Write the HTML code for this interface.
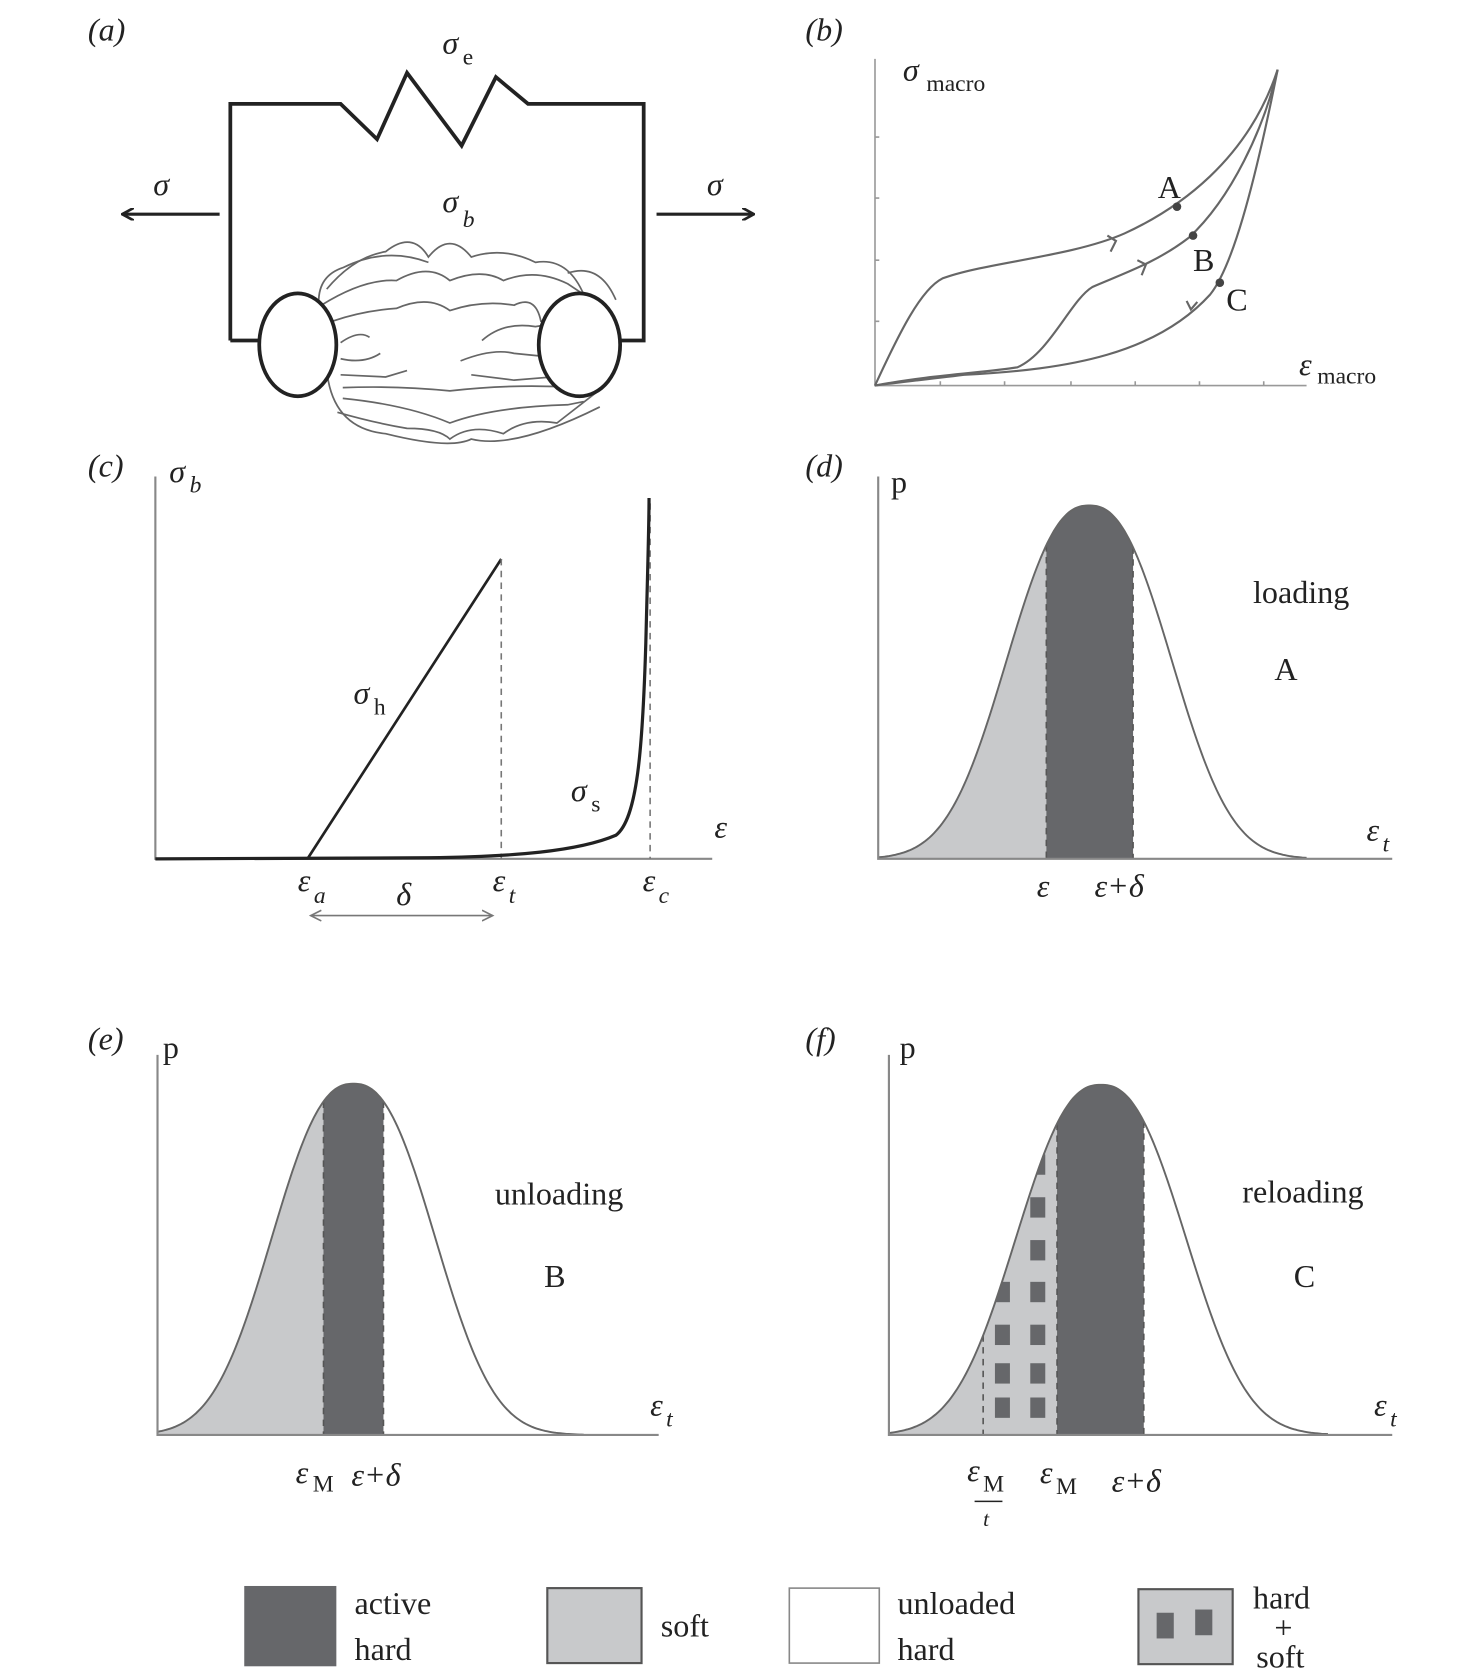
<!DOCTYPE html>
<html><head><meta charset="utf-8"><style>
html,body{margin:0;padding:0;background:#fff}
svg{display:block}
text{font-family:"Liberation Serif",serif;fill:#222}
.it{font-style:italic}
</style></head><body>
<svg id="s" width="1463" height="1677" viewBox="0 0 1366 1566" xmlns="http://www.w3.org/2000/svg">
<defs>
<marker id="ah" markerWidth="12" markerHeight="12" refX="10" refY="6" orient="auto" markerUnits="userSpaceOnUse"><path d="M0,0 L11,6 L0,12" fill="none" stroke="#222" stroke-width="2.5"/></marker>
<marker id="ag" markerWidth="12" markerHeight="12" refX="10" refY="6" orient="auto-start-reverse" markerUnits="userSpaceOnUse"><path d="M0,1 L10,6 L0,11" fill="none" stroke="#777" stroke-width="1.5"/></marker>
</defs>
<g font-size="30">
<text x="82" y="38" class="it">(a)</text>
<path d="M215,318 L215,97 L318,97 L352,130 L380,68 L431,136 L463,72 L493,97 L601,97 L601,318 L578,318" fill="none" stroke="#222" stroke-width="3.5"/>
<path d="M215,318 L242,318" stroke="#222" stroke-width="3.5"/>
<line x1="205" y1="200" x2="115" y2="200" stroke="#222" stroke-width="3" marker-end="url(#ah)"/>
<line x1="613" y1="200" x2="703" y2="200" stroke="#222" stroke-width="3" marker-end="url(#ah)"/>
<text x="143" y="182" class="it">σ</text><text x="660" y="182" class="it">σ</text>
<text x="413" y="198" class="it">σ</text><text x="432" y="212" font-size="22" class="it">b</text>
<text x="413" y="50" class="it">σ</text><text x="432" y="60" font-size="22">e</text>
<g fill="none" stroke="#666" stroke-width="1.6">
<path d="M305,270 Q330,240 360,235 Q385,215 400,240 Q420,215 440,240 Q470,230 500,245 Q530,240 545,275"/>
<path d="M300,285 Q340,260 370,262 Q400,245 420,262 Q450,250 470,262 Q500,250 530,265 L560,285"/>
<path d="M310,300 Q340,290 370,288 Q400,275 420,290 Q450,280 480,285 Q500,275 505,300 L545,305"/>
<path d="M318,320 Q335,308 345,315 M450,318 Q470,300 500,305 L530,300"/>
<path d="M318,335 Q340,340 355,330 M430,337 Q460,325 480,330 L530,335"/>
<path d="M318,350 L360,352 L380,346 M440,350 L480,355 L540,350"/>
<path d="M320,362 Q370,360 420,365 Q480,358 540,362"/>
<path d="M320,372 Q380,378 420,395 Q460,380 530,378 L545,375"/>
<path d="M315,385 Q350,395 380,400 Q410,400 420,410 Q440,395 470,405 Q490,390 520,395 L565,360"/>
<path d="M305,345 Q310,400 360,405 Q420,420 440,410 Q480,420 560,380"/>
<path d="M300,300 Q290,260 320,250 Q360,230 400,245"/>
<path d="M530,255 Q560,245 575,280"/>
</g>
<ellipse cx="278" cy="322" rx="36" ry="48" fill="#fff" stroke="#222" stroke-width="3.5"/>
<ellipse cx="541" cy="322" rx="38" ry="48" fill="#fff" stroke="#222" stroke-width="3.5"/>
<text x="752" y="38" class="it">(b)</text>
<g stroke="#999" stroke-width="1.5" fill="none">
<path d="M817,55 L817,360 L1220,360"/>
<path d="M817,128 h4 M817,185 h4 M817,243 h4 M817,300 h4 M878,360 v-4 M938,360 v-4 M1000,360 v-4 M1060,360 v-4 M1120,360 v-4 M1180,360 v-4"/>
</g>
<g stroke="#666" stroke-width="2" fill="none">
<path d="M817,360 C840,310 860,270 880,260 C920,245 1000,240 1050,218 C1100,195 1165,150 1193,65"/>
<path d="M817,360 C870,350 920,348 950,343 C980,330 1000,280 1020,268 C1050,255 1080,245 1110,222 C1150,185 1180,120 1193,65"/>
<path d="M1193,65 C1170,180 1150,250 1130,275 C1080,330 1000,345 900,350 C860,355 830,358 817,360"/>
<path d="M1037,235 l5,-10 l-8,-5 M1066,257 l4,-10 l-8,-4 M1118,282 l-6,7 l-4,-8"/>
</g>
<circle cx="1099" cy="193" r="4" fill="#444"/><circle cx="1114" cy="220" r="4" fill="#444"/><circle cx="1139" cy="264" r="4" fill="#444"/>
<text x="1081" y="185">A</text><text x="1114" y="253">B</text><text x="1145" y="290">C</text>
<text x="843" y="75" class="it">σ</text><text x="865" y="85" font-size="22">macro</text>
<text x="1213" y="350" class="it">ε</text><text x="1230" y="358" font-size="22">macro</text>
<text x="82" y="445" class="it">(c)</text>
<text x="158" y="450" class="it">σ</text><text x="177" y="460" font-size="22" class="it">b</text>
<path d="M145,445 L145,802 L665,802" stroke="#888" stroke-width="2" fill="none"/>
<path d="M287,802 L468,522" stroke="#222" stroke-width="2.5"/>
<path d="M468,522 V802 M607,470 V802" stroke="#777" stroke-width="1.5" stroke-dasharray="6,5"/>
<path d="M145,802 L400,801 C480,800 540,795 575,780 C595,765 600,700 603,600 C605,520 606,490 606,465" fill="none" stroke="#222" stroke-width="3"/>
<text x="330" y="657" class="it">σ</text><text x="349" y="667" font-size="22">h</text>
<text x="533" y="748" class="it">σ</text><text x="552" y="758" font-size="22">s</text>
<text x="667" y="782" class="it">ε</text>
<text x="278" y="832" class="it">ε</text><text x="293" y="843" font-size="22" class="it">a</text>
<text x="370" y="845" class="it">δ</text>
<text x="460" y="832" class="it">ε</text><text x="475" y="843" font-size="22" class="it">t</text>
<text x="600" y="832" class="it">ε</text><text x="615" y="843" font-size="22" class="it">c</text>
<line x1="290" y1="855" x2="460" y2="855" stroke="#777" stroke-width="1.5" marker-start="url(#ag)" marker-end="url(#ag)"/>
<text x="752" y="445" class="it">(d)</text>
<g id="pd"></g>
<text x="832" y="460">p</text>
<text x="1170" y="563">loading</text><text x="1190" y="635">A</text>
<text x="1276" y="785" class="it">ε</text><text x="1291" y="795" font-size="22" class="it">t</text>
<text x="968" y="837" class="it">ε</text><text x="1022" y="837" class="it">ε+δ</text>
<text x="82" y="980" class="it">(e)</text>
<g id="pe"></g>
<text x="152" y="988">p</text>
<text x="462" y="1125">unloading</text><text x="508" y="1202">B</text>
<text x="607" y="1322" class="it">ε</text><text x="622" y="1332" font-size="22" class="it">t</text>
<text x="276" y="1385" class="it">ε</text><text x="292" y="1393" font-size="22">M</text>
<text x="328" y="1387" class="it">ε+δ</text>
<text x="752" y="980" class="it">(f)</text>
<g id="pf"></g>
<text x="840" y="988">p</text>
<text x="1160" y="1123">reloading</text><text x="1208" y="1202">C</text>
<text x="1283" y="1322" class="it">ε</text><text x="1298" y="1332" font-size="22" class="it">t</text>
<text x="903" y="1383" class="it">ε</text><text x="918" y="1393" font-size="22">M</text>
<line x1="910" y1="1402" x2="936" y2="1402" stroke="#222" stroke-width="1.5"/>
<text x="918" y="1425" font-size="20" class="it">t</text>
<text x="971" y="1385" class="it">ε</text><text x="986" y="1395" font-size="22">M</text>
<text x="1038" y="1393" class="it">ε+δ</text>
<rect x="228" y="1481" width="86" height="75" fill="#66676a"/>
<text x="331" y="1507">active</text><text x="331" y="1550">hard</text>
<rect x="511" y="1483" width="88" height="70" fill="#c8c9cb" stroke="#555" stroke-width="2"/>
<text x="617" y="1528">soft</text>
<rect x="737" y="1483" width="84" height="70" fill="#fff" stroke="#888" stroke-width="1.5"/>
<text x="838" y="1507">unloaded</text><text x="838" y="1550">hard</text>
<rect x="1063" y="1484" width="88" height="70" fill="#c8c9cb" stroke="#555" stroke-width="2"/>
<rect x="1080" y="1506" width="16" height="24" fill="#66676a"/><rect x="1116" y="1503" width="16" height="24" fill="#66676a"/>
<text x="1170" y="1502">hard</text><text x="1190" y="1530">+</text><text x="1173" y="1557">soft</text>
</g>
</svg>
<script>
var NS="http://www.w3.org/2000/svg";
function el(g,t,a){var e=document.createElementNS(NS,t);for(var k in a)e.setAttribute(k,a[k]);g.appendChild(e);return e;}
function panel(id,x0,x1,base,top,c,w,xe,yax,cuts,sq){
 var g=document.getElementById(id),H=base-top;
 function f(x){return base-H*Math.exp(-Math.pow(Math.abs(x-c)/w,2.4));}
 function pts(a,b){var p=[];for(var x=a;x<=b;x+=2)p.push(x+","+f(x).toFixed(1));p.push(b+","+f(b).toFixed(1));return p;}
 function area(a,b,col){el(g,"polygon",{points:a+","+base+" "+pts(a,b).join(" ")+" "+b+","+base,fill:col});}
 area(x0,cuts[0],"#c8c9cb");area(cuts[cuts.length-2],cuts[cuts.length-1],"#66676a");
 if(sq){var cp=el(g,"clipPath",{id:id+"c"});el(cp,"polygon",{points:x0+","+base+" "+pts(x0,cuts[0]).join(" ")+" "+cuts[0]+","+base});
  var sg=el(g,"g",{"clip-path":"url(#"+id+"c)"});
  [1078,1118,1158,1197,1237,1273,1305].forEach(function(y){[929,962].forEach(function(x){el(sg,"rect",{x:x,y:y,width:14,height:19,fill:"#66676a"});});});
  el(g,"line",{x1:sq,y1:f(sq),x2:sq,y2:base,stroke:"#555","stroke-width":1.5,"stroke-dasharray":"6,5"});}
 cuts.forEach(function(x){el(g,"line",{x1:x,y1:f(x),x2:x,y2:base,stroke:"#555","stroke-width":1.5,"stroke-dasharray":"6,5"});});
 el(g,"polyline",{points:pts(x0,xe).join(" "),fill:"none",stroke:"#666","stroke-width":1.8});
 el(g,"path",{d:"M"+x0+","+yax+" V"+base+" H"+x1,fill:"none",stroke:"#888","stroke-width":2});
}
panel("pd",820,1300,802,472,1017,97,1220,445,[977,1058]);
panel("pe",147,615,1340,1012,330,96,545,985,[302,358]);
panel("pf",830,1300,1340,1013,1028,100,1240,985,[987,1068],918);
</script>
</body></html>
